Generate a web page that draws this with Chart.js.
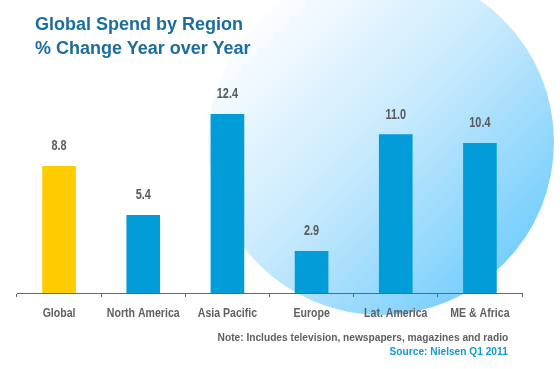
<!DOCTYPE html>
<html>
<head>
<meta charset="utf-8">
<script src="https://cdn.jsdelivr.net/npm/chart.js@4/dist/chart.umd.min.js"></script>
<style>
  html, body { margin: 0; padding: 0; background: #ffffff; }
  #wrap { position: relative; width: 560px; height: 369px; overflow: hidden; }
  #c { position: absolute; left: 0; top: 0; }
  .title { position: absolute; left: 35px; top: 12px; font-family: "Liberation Sans", Arial, sans-serif; font-weight: bold; font-size: 18px; line-height: 24px; color: #1a6e9f; white-space: nowrap; }
  .note, .source { position: absolute; right: 52px; font-family: "Liberation Sans", Arial, sans-serif; font-weight: bold; font-size: 11px; line-height: 13px; white-space: nowrap; text-align: right; transform: scaleX(0.925); transform-origin: right center; }
  .note { top: 331px; color: #5f5f5f; }
  .source { top: 345px; color: #0d9bd9; }
</style>
</head>
<body>
<div id="wrap">
  <canvas id="c" width="560" height="369"></canvas>
  <div class="title">Global Spend by Region<br>% Change Year over Year</div>
  <div class="note">Note: Includes television, newspapers, magazines and radio</div>
  <div class="source">Source: Nielsen Q1 2011</div>
</div>
<script>
const categories = ["Global", "North America", "Asia Pacific", "Europe", "Lat. America", "ME & Africa"];
const changePct = [8.8, 5.4, 12.4, 2.9, 11.0, 10.4];
const barColors = ["#ffcc00", "#029dd9", "#029dd9", "#029dd9", "#029dd9", "#029dd9"];

const FONT = '"Liberation Sans", Arial, sans-serif';

const circleBg = {
  id: 'circleBg',
  beforeDraw(chart) {
    const ctx = chart.ctx;
    const cx = 381, cy = 142, r = 173;
    ctx.save();
    const g = ctx.createLinearGradient(cx - r * 0.75, cy - r * 0.75, cx + r * 0.7, cy + r * 0.7);
    g.addColorStop(0, '#ffffff');
    g.addColorStop(0.5, '#c8eafd');
    g.addColorStop(1, '#78cffc');
    ctx.fillStyle = g;
    ctx.beginPath();
    ctx.arc(cx, cy, r, 0, Math.PI * 2);
    ctx.fill();
    ctx.restore();
  }
};

// condensed text helper (the original uses a narrow face)
function narrowText(ctx, text, x, y, sx) {
  ctx.save();
  ctx.translate(x, y);
  ctx.scale(sx, 1);
  ctx.fillText(text, 0, 0);
  ctx.restore();
}

const valueLabels = {
  id: 'valueLabels',
  afterDatasetsDraw(chart) {
    const ctx = chart.ctx;
    const meta = chart.getDatasetMeta(0);
    ctx.save();
    ctx.font = 'bold 14px ' + FONT;
    ctx.fillStyle = '#5a5a5a';
    ctx.textAlign = 'center';
    ctx.textBaseline = 'alphabetic';
    meta.data.forEach((bar, i) => {
      narrowText(ctx, changePct[i].toFixed(1), bar.x, bar.y - 16, 0.78);
    });
    ctx.restore();
  }
};

const xLabels = {
  id: 'xLabels',
  afterDraw(chart) {
    const ctx = chart.ctx;
    const xs = chart.scales.x;
    ctx.save();
    ctx.font = 'bold 12px ' + FONT;
    ctx.fillStyle = '#5f5f5f';
    ctx.textAlign = 'center';
    ctx.textBaseline = 'middle';
    xs.ticks.forEach((t, i) => {
      narrowText(ctx, xs.getLabelForValue(t.value), xs.getPixelForTick(i), xs.top + 21, 0.88);
    });
    ctx.restore();
  }
};

new Chart(document.getElementById('c'), {
  type: 'bar',
  data: {
    labels: categories,
    datasets: [{
      data: changePct,
      backgroundColor: barColors,
      borderWidth: 0,
      barThickness: 33
    }]
  },
  options: {
    responsive: false,
    animation: false,
    devicePixelRatio: 1,
    layout: { padding: { left: 17, right: 38, top: 5, bottom: 0 } },
    plugins: { legend: { display: false }, tooltip: { enabled: false }, title: { display: false } },
    scales: {
      y: { display: false, min: 0, max: 20 },
      x: {
        offset: true,
        grid: { display: true, offset: true, drawOnChartArea: false, drawTicks: true, tickLength: 4, color: '#666666', lineWidth: 1 },
        border: { display: true, color: '#666666', width: 1 },
        ticks: { color: 'rgba(0,0,0,0)', font: { family: FONT, weight: 'bold', size: 12 }, padding: 8, maxRotation: 0, autoSkip: false },
        afterFit(scale) { scale.height = 76; }
      }
    }
  },
  plugins: [circleBg, valueLabels, xLabels]
});
</script>
</body>
</html>
